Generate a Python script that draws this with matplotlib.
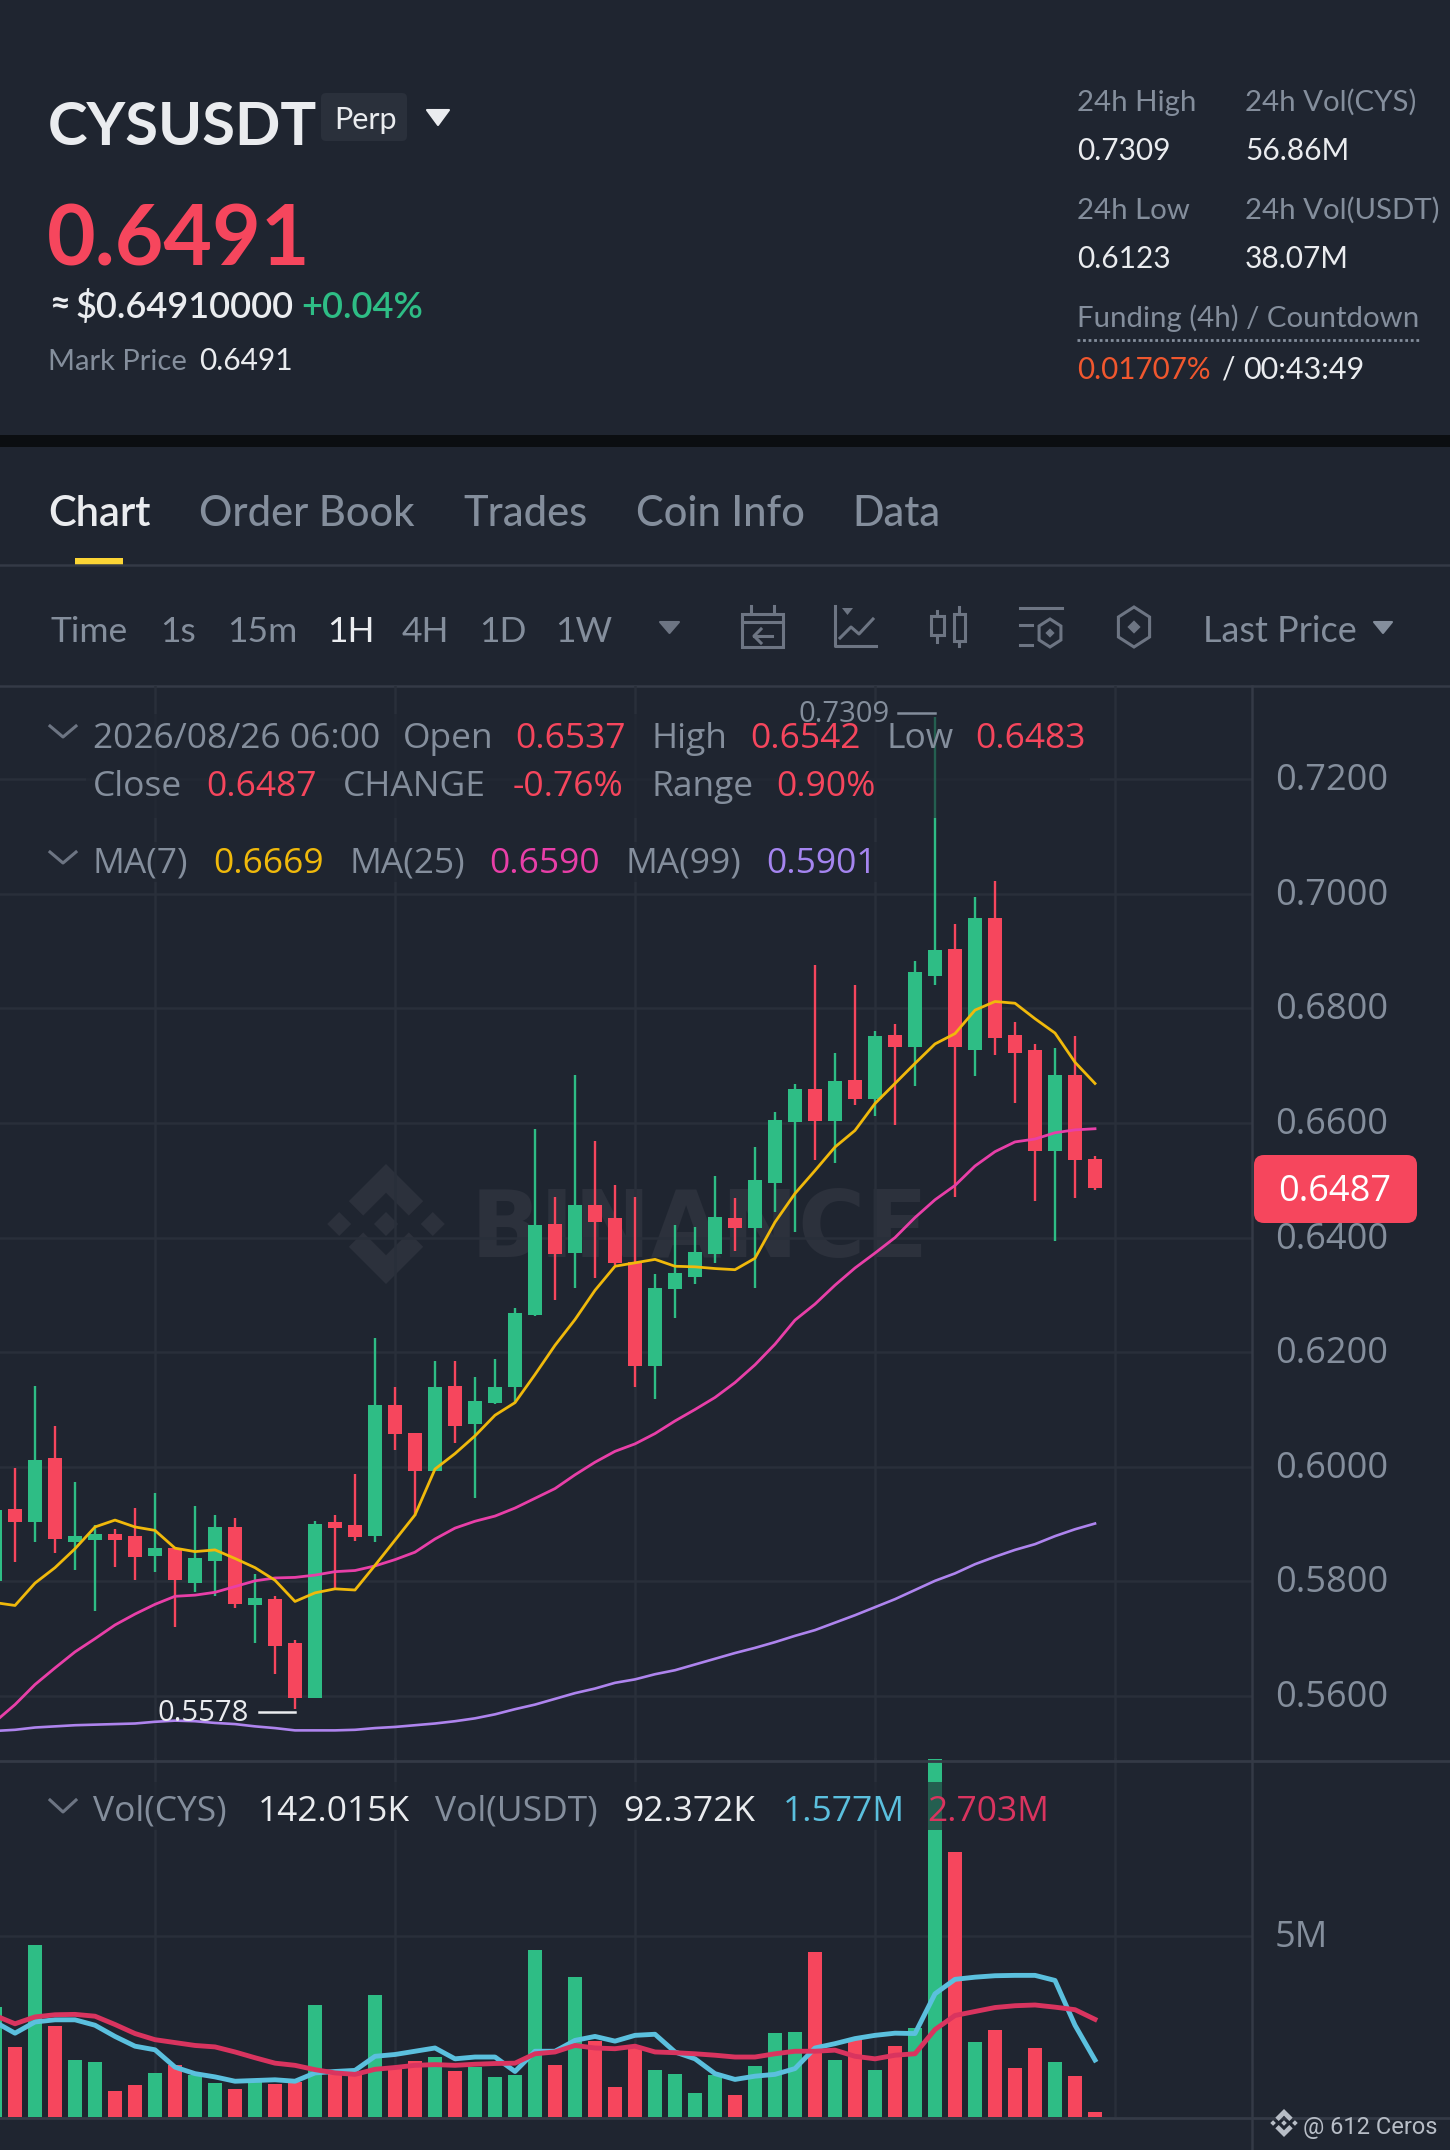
#!/usr/bin/python3

import numpy as np
import matplotlib
matplotlib.use('Agg')
import matplotlib.pyplot as plt
from matplotlib.patches import FancyBboxPatch, Polygon, Rectangle
from matplotlib.transforms import ScaledTranslation

plt.rcParams['font.family'] = ['Open Sans', 'DejaVu Sans']

# candles, oldest first
opens = [0.5800, 0.5926, 0.5904, 0.6015, 0.5869, 0.5872, 0.5882, 0.5879, 0.5845, 0.5858, 0.5798, 0.5835, 0.5895, 0.5758,
         0.5769, 0.5692, 0.5596, 0.5904, 0.5899, 0.5879, 0.6108, 0.6059, 0.5993, 0.6141, 0.6074, 0.6112, 0.6139, 0.6265,
         0.6423, 0.6373, 0.6457, 0.6434, 0.6357, 0.6176, 0.6310, 0.6332, 0.6372, 0.6435, 0.6417, 0.6495, 0.6602, 0.6660,
         0.6604, 0.6675, 0.6642, 0.6753, 0.6732, 0.6857, 0.6903, 0.6728, 0.6958, 0.6754, 0.6727, 0.6551, 0.6683, 0.6537]
closes = [0.5925, 0.5904, 0.6012, 0.5874, 0.5879, 0.5882, 0.5872, 0.5843, 0.5858, 0.5802, 0.5840, 0.5895, 0.5760, 0.5771,
          0.5687, 0.5596, 0.5901, 0.5893, 0.5877, 0.6107, 0.6058, 0.5993, 0.6140, 0.6072, 0.6114, 0.6140, 0.6269, 0.6422,
          0.6372, 0.6457, 0.6428, 0.6355, 0.6176, 0.6312, 0.6339, 0.6374, 0.6436, 0.6417, 0.6500, 0.6606, 0.6660, 0.6604,
          0.6674, 0.6642, 0.6752, 0.6732, 0.6864, 0.6902, 0.6732, 0.6957, 0.6749, 0.6722, 0.6551, 0.6683, 0.6535, 0.6487]
highs = [0.5925, 0.5998, 0.6141, 0.6072, 0.5974, 0.5898, 0.5892, 0.5928, 0.5955, 0.5860, 0.5931, 0.5916, 0.5911, 0.5813,
         0.5775, 0.5698, 0.5906, 0.5916, 0.5987, 0.6225, 0.6139, 0.6059, 0.6185, 0.6185, 0.6156, 0.6189, 0.6277, 0.6590,
         0.6470, 0.6684, 0.6568, 0.6491, 0.6470, 0.6336, 0.6422, 0.6419, 0.6507, 0.6469, 0.6558, 0.6620, 0.6668, 0.6875,
         0.6722, 0.6841, 0.6761, 0.6773, 0.6882, 0.7309, 0.6948, 0.6994, 0.7023, 0.6776, 0.6737, 0.6731, 0.6751, 0.6542]
lows = [0.5800, 0.5833, 0.5869, 0.5849, 0.5820, 0.5748, 0.5825, 0.5803, 0.5816, 0.5720, 0.5781, 0.5775, 0.5753, 0.5692,
        0.5639, 0.5578, 0.5596, 0.5787, 0.5871, 0.5869, 0.6029, 0.5914, 0.5993, 0.6041, 0.5945, 0.6110, 0.6112, 0.6264,
        0.6291, 0.6312, 0.6329, 0.6353, 0.6139, 0.6119, 0.6260, 0.6319, 0.6355, 0.6377, 0.6312, 0.6445, 0.6410, 0.6536,
        0.6530, 0.6632, 0.6612, 0.6597, 0.6664, 0.6840, 0.6470, 0.6682, 0.6718, 0.6635, 0.6464, 0.6394, 0.6469, 0.6483]

ma7 = [0.5763, 0.5758, 0.5797, 0.5824, 0.5857, 0.5895, 0.5907, 0.5895, 0.5889, 0.5858, 0.5852, 0.5855, 0.5840, 0.5824,
       0.5802, 0.5765, 0.5780, 0.5787, 0.5785, 0.5828, 0.5872, 0.5916, 0.5996, 0.6023, 0.6054, 0.6090, 0.6112, 0.6161,
       0.6212, 0.6257, 0.6308, 0.6350, 0.6356, 0.6362, 0.6350, 0.6349, 0.6346, 0.6344, 0.6364, 0.6427, 0.6477, 0.6517,
       0.6558, 0.6587, 0.6634, 0.6669, 0.6704, 0.6738, 0.6756, 0.6797, 0.6812, 0.6809, 0.6782, 0.6757, 0.6706, 0.6669]
ma25 = [0.5555, 0.5585, 0.5620, 0.5649, 0.5677, 0.5700, 0.5724, 0.5743, 0.5760, 0.5774, 0.5776, 0.5781, 0.5791, 0.5801,
        0.5806, 0.5807, 0.5811, 0.5817, 0.5819, 0.5827, 0.5838, 0.5851, 0.5874, 0.5893, 0.5905, 0.5914, 0.5928, 0.5945,
        0.5962, 0.5986, 0.6008, 0.6027, 0.6040, 0.6058, 0.6080, 0.6100, 0.6121, 0.6147, 0.6178, 0.6214, 0.6256, 0.6284,
        0.6317, 0.6347, 0.6373, 0.6400, 0.6435, 0.6466, 0.6491, 0.6525, 0.6550, 0.6567, 0.6572, 0.6583, 0.6588, 0.6590]
ma99 = [0.5539, 0.5541, 0.5545, 0.5547, 0.5549, 0.5550, 0.5551, 0.5552, 0.5555, 0.5557, 0.5556, 0.5553, 0.5551, 0.5547,
        0.5544, 0.5540, 0.5540, 0.5540, 0.5541, 0.5544, 0.5546, 0.5549, 0.5552, 0.5556, 0.5561, 0.5568, 0.5577, 0.5585,
        0.5595, 0.5605, 0.5613, 0.5623, 0.5629, 0.5638, 0.5645, 0.5655, 0.5665, 0.5675, 0.5684, 0.5694, 0.5705, 0.5715,
        0.5728, 0.5741, 0.5755, 0.5769, 0.5785, 0.5801, 0.5814, 0.5830, 0.5843, 0.5855, 0.5865, 0.5879, 0.5891, 0.5901]

# volume in millions
volumes = [3.04, 1.94, 4.77, 2.51, 1.59, 1.51, 0.73, 0.89, 1.22, 1.45, 1.15, 0.95, 0.78, 0.97,
           0.92, 0.97, 3.09, 1.29, 1.20, 3.39, 1.34, 1.54, 1.65, 1.26, 1.38, 1.10, 1.15, 4.61,
           1.45, 3.87, 2.09, 0.83, 1.94, 1.29, 1.20, 0.66, 1.15, 0.61, 1.40, 2.32, 2.35, 4.58,
           1.57, 2.20, 1.30, 1.96, 2.45, 9.90, 7.33, 2.07, 2.42, 1.36, 1.91, 1.52, 1.14, 0.142]
vol_ma_blue = [2.63, 2.32, 2.63, 2.69, 2.69, 2.54, 2.23, 1.96, 1.86, 1.38, 1.20, 1.11, 0.99, 1.01,
               1.03, 0.99, 1.22, 1.26, 1.29, 1.68, 1.73, 1.82, 1.91, 1.61, 1.66, 1.66, 1.26, 1.82,
               1.82, 2.12, 2.23, 2.10, 2.26, 2.29, 1.80, 1.61, 1.20, 1.04, 1.13, 1.18, 1.34, 1.91,
               2.03, 2.17, 2.26, 2.32, 2.31, 3.41, 3.81, 3.87, 3.91, 3.92, 3.92, 3.78, 2.54, 1.577]
vol_ma_red = [2.81, 2.58, 2.77, 2.83, 2.84, 2.79, 2.56, 2.31, 2.14, 2.06, 1.98, 1.94, 1.80, 1.64,
              1.49, 1.43, 1.31, 1.22, 1.18, 1.32, 1.37, 1.43, 1.45, 1.43, 1.46, 1.48, 1.49, 1.75,
              1.80, 1.98, 1.91, 1.89, 1.96, 1.80, 1.78, 1.75, 1.71, 1.66, 1.66, 1.75, 1.82, 1.82,
              1.85, 1.68, 1.61, 1.71, 1.75, 2.42, 2.81, 2.92, 3.03, 3.08, 3.10, 3.04, 2.97, 2.703]

price_ticks = [0.56, 0.58, 0.60, 0.62, 0.64, 0.66, 0.68, 0.70, 0.72]
time_ticks = [8, 20, 32, 44, 56]
tabs = ['Chart', 'Order Book', 'Trades', 'Coin Info', 'Data']
intervals = ['Time', '1s', '15m', '1H', '4H', '1D', '1W']

BG = '#1f2530'
GRID = '#292f3a'
LINE = '#343a46'
GREEN = '#2ebd85'
RED = '#f6465d'
GRAY = '#848e9c'
WHITE = '#eaecef'
ICON = '#6d7583'
YELLOW = '#f0b90b'
PINK = '#e83fa8'
PURPLE = '#a585f0'
LBLUE = '#5bc0de'
CRIMSON = '#d9345f'

W, H = 1450, 2150
PANEL_R = 1252
PRICE_T, PRICE_B = 686, 1761
VOL_T, VOL_B = 1758, 2117


def px_axes(fig, zorder):
    ax = fig.add_axes([0, 0, 1, 1], zorder=zorder)
    ax.set_xlim(0, W)
    ax.set_ylim(H, 0)
    ax.axis('off')
    return ax


def txt(ax, x, y, s, color=WHITE, size=25.5, weight='normal', family='Open Sans', ha='left', **kw):
    return ax.text(x, y, s, color=color, fontsize=size, fontweight=weight, family=[family, 'DejaVu Sans'],
                   ha=ha, va='baseline', **kw)


def binance_logo(ax, cx, cy, r, color, zorder=1):
    # r is the half height of the whole mark
    d = r * 0.2
    for dx, dy in [(0, 0), (-r * 0.78, 0), (r * 0.78, 0)]:
        ax.add_patch(Polygon([(cx + dx - d, cy + dy), (cx + dx, cy + dy - d), (cx + dx + d, cy + dy), (cx + dx, cy + dy + d)],
                             color=color, lw=0, zorder=zorder))
    for s in (-1, 1):
        ax.add_patch(Polygon([(cx, cy + s * r), (cx + r * 0.62, cy + s * r * 0.38), (cx + r * 0.38, cy + s * r * 0.14),
                              (cx, cy + s * r * 0.52), (cx - r * 0.38, cy + s * r * 0.14), (cx - r * 0.62, cy + s * r * 0.38)],
                             color=color, lw=0, zorder=zorder))


def tri(ax, x0, x1, y0, y1, color):
    ax.add_patch(Polygon([(x0, y0), (x1, y0), ((x0 + x1) / 2, y1)], closed=True, color=color, lw=1.5, joinstyle='round'))


def chevron(ax, x0, x1, y0, y1):
    ax.plot([x0, (x0 + x1) / 2, x1], [y0, y1, y0], color=ICON, lw=2.2)


def hexagon(ax, cx, cy, r, lw=2.2):
    ang = np.radians([90, 150, 210, 270, 330, 30])
    ax.add_patch(Polygon(np.c_[cx + r * 0.9 * np.cos(ang), cy + r * np.sin(ang)], fill=False, ec=ICON, lw=lw))
    d = r * 0.33
    ax.add_patch(Polygon([(cx - d, cy), (cx, cy - d), (cx + d, cy), (cx, cy + d)], color=ICON, lw=0))


def style_panel(a):
    a.patch.set_alpha(0)
    a.set_xlim(0.25, 62.85)
    a.set_xticks(time_ticks)
    a.tick_params(axis='y', right=False, left=False, labelright=True, labelleft=False, pad=13)
    a.tick_params(axis='x', bottom=False, labelbottom=False)
    a.grid(True, color=GRID, lw=1.8, zorder=0)
    a.set_axisbelow(True)
    for s in a.spines.values():
        s.set_visible(False)
    lift = ScaledTranslation(0, 0.025, fig.dpi_scale_trans)
    for lab in a.get_yticklabels():
        lab.set_transform(lab.get_transform() + lift)


fig = plt.figure(figsize=(W / 100, H / 100), dpi=100, facecolor=BG)

# static page, sits under the chart
bg = px_axes(fig, 0)
bg.add_patch(Rectangle((0, 435), W, 12, color='#0b0e11', lw=0))
bg.plot([0, W], [565, 565], color=LINE, lw=1.8)
bg.plot([0, W], [686, 686], color=LINE, lw=1.8)
bg.add_patch(Rectangle((75, 558), 48, 8, color='#fcd535', lw=0))

txt(bg, 48, 145, 'CYSUSDT', color=WHITE, size=43, weight='bold', family='Lato')
bg.add_patch(FancyBboxPatch((325, 97), 78, 40, boxstyle='round,pad=4,rounding_size=5', color='#2a303b', lw=0))
txt(bg, 334, 129, 'Perp', size=22, family='Lato')
tri(bg, 427, 449, 110, 125, WHITE)
txt(bg, 47, 266, '0.6491', color=RED, size=60.5, weight='bold', family='Lato')
txt(bg, 49, 316, '≈', size=26, family='Lato', weight='bold')
txt(bg, 75, 318, '$0.64910000', size=26, family='Lato', weight='semibold')
txt(bg, 301, 318, '+0.04%', color=GREEN, size=26, family='Lato', weight='semibold')
txt(bg, 48, 370, 'Mark Price', color=GRAY, size=21, family='Lato')
txt(bg, 199, 370, '0.6491', size=21.5, family='Lato')

for x, label, val, y in [(1077, '24h High', '0.7309', 111), (1245, '24h Vol(CYS)', '56.86M', 111),
                         (1077, '24h Low', '0.6123', 219), (1245, '24h Vol(USDT)', '38.07M', 219)]:
    txt(bg, x, y, label, color=GRAY, size=21.2, family='Lato')
    txt(bg, x, y + 49, val, size=21.5, family='Lato')
txt(bg, 1077, 327, 'Funding (4h) / Countdown', color=GRAY, size=21.2, family='Lato')
bg.plot([1077, 1421], [340, 340], color=GRAY, lw=2, ls=(0, (1, 1)))
txt(bg, 1077, 379, '0.01707%', color='#f0572e', size=21.3, family='Lato')
txt(bg, 1222, 379, '/', size=21.5, family='Lato')
txt(bg, 1243, 379, '00:43:49', size=22, family='Lato')

for x, s in zip([48, 199, 463, 636, 852], tabs):
    txt(bg, x, 526, s, color=WHITE if s == 'Chart' else GRAY, size=30, family='Lato',
        weight='semibold' if s == 'Chart' else 'medium')
for x, s in zip([51, 160, 227, 327, 402, 479, 555], intervals):
    txt(bg, x, 642, s, color=WHITE if s == '1H' else GRAY, size=25.5, family='Lato')
tri(bg, 660, 679, 622, 633, ICON)
txt(bg, 1203, 642, 'Last Price', color=GRAY, size=26, family='Lato')
tri(bg, 1374, 1392, 622, 633, GRAY)

# calendar icon
bg.add_patch(Rectangle((742, 614), 41, 33, fill=False, ec=ICON, lw=2.2))
bg.plot([742, 783], [622, 622], color=ICON, lw=2.2)
bg.plot([751, 751], [606, 614], color=ICON, lw=2.2)
bg.plot([774, 774], [606, 614], color=ICON, lw=2.2)
bg.plot([772, 754], [636, 636], color=ICON, lw=2.2)
bg.plot([761, 754, 761], [629, 636, 643], color=ICON, lw=2.2)
# line chart icon
bg.plot([835, 835, 876], [606, 646, 646], color=ICON, lw=2.2)
bg.plot([840, 851, 859, 873], [638, 627, 634, 619], color=ICON, lw=2.2)
bg.add_patch(Polygon([(842, 608), (853, 608), (847.5, 615)], color=ICON, lw=0))
# candle icon
bg.add_patch(Rectangle((931, 616), 13, 19, fill=False, ec=ICON, lw=2.2))
bg.add_patch(Rectangle((954, 614), 11, 27, fill=False, ec=ICON, lw=2.2))
bg.plot([937.5, 937.5], [611, 616], color=ICON, lw=2.2)
bg.plot([937.5, 937.5], [635, 642], color=ICON, lw=2.2)
bg.plot([959.5, 959.5], [607, 614], color=ICON, lw=2.2)
bg.plot([959.5, 959.5], [641, 646], color=ICON, lw=2.2)
# settings icon
bg.plot([1020, 1062], [608, 608], color=ICON, lw=2.2)
bg.plot([1020, 1032], [625, 625], color=ICON, lw=2.2)
bg.plot([1020, 1032], [645, 645], color=ICON, lw=2.2)
hexagon(bg, 1050, 633, 14)
hexagon(bg, 1134, 627, 20)

# watermark
binance_logo(bg, 386, 1224, 60, '#2c313c')
txt(bg, 700, 1257, 'BINANCE', color='#2c313c', size=66, weight='bold', family='DejaVu Sans', ha='center')

# price panel
ax = fig.add_axes([0, 1 - PRICE_B / H, PANEL_R / W, (PRICE_B - PRICE_T) / H], zorder=1)
xs = np.arange(len(opens))
ax.set_ylim(0.56 + (1696 - PRICE_B) / 5730, 0.56 + (1696 - PRICE_T) / 5730)
colors = [GREEN if c >= o else RED for o, c in zip(opens, closes)]
ax.vlines(xs, lows, highs, colors=colors, lw=1.7, zorder=3)
ax.bar(xs, np.abs(np.array(closes) - np.array(opens)), bottom=np.minimum(opens, closes), width=0.7, color=colors, zorder=3)
ax.plot(xs, ma99, color='#ae84ee', lw=1.9, zorder=4)
ax.plot(xs, ma25, color=PINK, lw=2, zorder=4)
ax.plot(xs, ma7, color=YELLOW, lw=2, zorder=4)
ax.set_yticks(price_ticks)
ax.set_yticklabels(['%.4f' % p for p in price_ticks], color=GRAY, fontsize=26)
style_panel(ax)

# volume panel
axv = fig.add_axes([0, 1 - VOL_B / H, PANEL_R / W, (VOL_B - VOL_T) / H], zorder=1)
axv.set_ylim(0, (VOL_B - VOL_T) / 36.13)
axv.bar(xs, volumes, width=0.7, color=colors, zorder=3)
axv.plot(xs, vol_ma_blue, color=LBLUE, lw=3.5, zorder=4)
axv.plot(xs, vol_ma_red, color=CRIMSON, lw=3.5, zorder=4)
axv.set_yticks([5])
axv.set_yticklabels(['5M'], color=GRAY, fontsize=26)
style_panel(axv)

# frame lines and legends over the chart
top = px_axes(fig, 2)
top.plot([0, W], [1761, 1761], color=LINE, lw=2)
top.plot([0, W], [2118, 2118], color=LINE, lw=2)
top.plot([PANEL_R, PANEL_R], [686, H], color=LINE, lw=1.8)

top.add_patch(Rectangle((86, 714), 1004, 104, color=BG, alpha=0.62, lw=0))
top.add_patch(Rectangle((86, 842), 794, 40, color=BG, alpha=0.62, lw=0))
top.add_patch(Rectangle((86, 1782), 965, 48, color=BG, alpha=0.62, lw=0))

for x, y, s, c in [(93, 748, '2026/08/26 06:00', GRAY), (403, 748, 'Open', GRAY), (515, 748, '0.6537', RED),
                   (652, 748, 'High', GRAY), (750, 748, '0.6542', RED), (887, 748, 'Low', GRAY), (975, 748, '0.6483', RED),
                   (93, 796, 'Close', GRAY), (206, 796, '0.6487', RED), (343, 796, 'CHANGE', GRAY), (513, 796, '-0.76%', RED),
                   (652, 796, 'Range', GRAY), (776, 796, '0.90%', RED),
                   (93, 873, 'MA(7)', GRAY), (213, 873, '0.6669', YELLOW), (350, 873, 'MA(25)', GRAY), (489, 873, '0.6590', PINK),
                   (626, 873, 'MA(99)', GRAY), (766, 873, '0.5901', PURPLE),
                   (93, 1821, 'Vol(CYS)', GRAY), (258, 1821, '142.015K', WHITE), (435, 1821, 'Vol(USDT)', GRAY),
                   (623, 1821, '92.372K', WHITE), (783, 1821, '1.577M', LBLUE), (927, 1821, '2.703M', CRIMSON)]:
    txt(top, x, y, s, color=c)
chevron(top, 50, 76, 726, 737)
chevron(top, 50, 76, 852, 863)
chevron(top, 50, 76, 1800, 1812)

txt(top, 799, 722, '0.7309', color=GRAY, size=21)
top.plot([898, 935], [713, 713], color=GRAY, lw=1.8)
txt(top, 158, 1721, '0.5578', color=WHITE, size=21)
top.plot([259, 295], [1712, 1712], color=WHITE, lw=1.8)

top.add_patch(FancyBboxPatch((1258, 1159), 155, 60, boxstyle='round,pad=4,rounding_size=10', color=RED, lw=0))
txt(top, 1335, 1201, '0.6487', color='white', ha='center', size=26)

binance_logo(top, 1284, 2123, 14, '#b7bdc6', zorder=5)
txt(top, 1303, 2134, '@ 612 Ceros', color='#b7bdc6', size=17, family='Roboto')

fig.savefig('out.png', dpi=100, facecolor=BG)
print('saved')
